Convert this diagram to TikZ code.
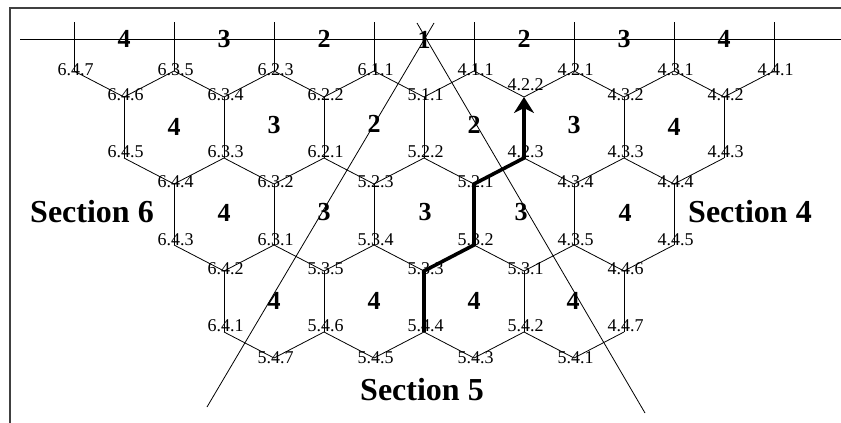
\documentclass[tikz,border=0pt]{standalone}
\usepackage{fontspec}
\setmainfont{Liberation Serif}
\usetikzlibrary{arrows.meta}
\begin{document}
\begin{tikzpicture}[x=1pt,y=-1pt,
  edge/.style={line width=0.8pt},
  route/.style={line width=3.6pt},
  frame/.style={line width=1.6pt, draw=black!75},
  vlab/.style={font=\fontsize{18}{18}\selectfont, inner sep=0pt},
  hexnum/.style={font=\bfseries\fontsize{26}{26}\selectfont, inner sep=0pt},
  sect/.style={font=\bfseries\fontsize{32}{32}\selectfont, inner sep=0pt}]
\useasboundingbox (0,0) rectangle (841,423);
% frame
\coordinate (fb) at (10,423);
\coordinate (fc) at (10,8);
\coordinate (fr) at (841,8);
\draw[frame] (fb) -- (fc) -- (fr);
\coordinate (hl) at (20,39);
\coordinate (hr) at (841,39);
\draw[line width=1pt] (hl) -- (hr);
% vertices with labels: name/x/y/text/shift
\foreach \n/\x/\y/\t/\s in {
 647/74/71/6.4.7/1, 635/174/71/6.3.5/1, 623/274/71/6.2.3/1, 611/374/71/6.1.1/1,
 411/474/71/4.1.1/1, 421/574/71/4.2.1/1, 431/674/71/4.3.1/1, 441/774/71/4.4.1/1,
 646/124/97/6.4.6/2, 634/224/97/6.3.4/2, 622/324/97/6.2.2/2, 511/424/97/5.1.1/2,
 422/524/97/4.2.2/12, 432/624/97/4.3.2/2, 442/724/97/4.4.2/2,
 645/124/158/6.4.5/6, 633/224/158/6.3.3/6, 621/324/158/6.2.1/6, 522/424/158/5.2.2/6,
 423/524/158/4.2.3/6, 433/624/158/4.3.3/6, 443/724/158/4.4.3/6,
 644/174/184/6.4.4/2, 632/274/184/6.3.2/2, 523/374/184/5.2.3/2, 521/474/184/5.2.1/2,
 434/574/184/4.3.4/2, 444/674/184/4.4.4/2,
 643/174/245/6.4.3/5, 631/274/245/6.3.1/5, 534/374/245/5.3.4/5, 532/474/245/5.3.2/5,
 435/574/245/4.3.5/5, 445/674/245/4.4.5/5,
 642/224/271/6.4.2/2, 535/324/271/5.3.5/2, 533/424/271/5.3.3/2, 531/524/271/5.3.1/2,
 446/624/271/4.4.6/2,
 641/224/332/6.4.1/6, 546/324/332/5.4.6/6, 544/424/332/5.4.4/6, 542/524/332/5.4.2/6,
 447/624/332/4.4.7/6,
 547/274/358/5.4.7/0, 545/374/358/5.4.5/0, 543/474/358/5.4.3/0, 541/574/358/5.4.1/0}{
  \coordinate (v\n) at (\x,\y);
  \node[vlab] (l\n) at ([xshift=1.5pt,yshift=\s pt]v\n) {\t};
}
% tick tops
\foreach \n/\x in {1/74,2/174,3/274,4/374,5/474,6/574,7/674,8/774}{
  \coordinate (t\n) at (\x,22);
}
\draw[edge] (t1) -- (v647);
\draw[edge] (t2) -- (v635);
\draw[edge] (t3) -- (v623);
\draw[edge] (t4) -- (v611);
\draw[edge] (t5) -- (v411);
\draw[edge] (t6) -- (v421);
\draw[edge] (t7) -- (v431);
\draw[edge] (t8) -- (v441);
% zigzags
\draw[edge] (v647) -- (v646) -- (v635) -- (v634) -- (v623) -- (v622) -- (v611) -- (v511)
  -- (v411) -- (v422) -- (v421) -- (v432) -- (v431) -- (v442) -- (v441);
\draw[edge] (v645) -- (v644) -- (v633) -- (v632) -- (v621) -- (v523) -- (v522) -- (v521);
\draw[edge] (v423) -- (v434) -- (v433) -- (v444) -- (v443);
\draw[edge] (v643) -- (v642) -- (v631) -- (v535) -- (v534) -- (v533);
\draw[edge] (v532) -- (v531) -- (v435) -- (v446) -- (v445);
\draw[edge] (v641) -- (v547) -- (v546) -- (v545) -- (v544) -- (v543) -- (v542) -- (v541) -- (v447);
% verticals
\draw[edge] (v646) -- (v645);
\draw[edge] (v634) -- (v633);
\draw[edge] (v622) -- (v621);
\draw[edge] (v511) -- (v522);
\draw[edge] (v432) -- (v433);
\draw[edge] (v442) -- (v443);
\draw[edge] (v644) -- (v643);
\draw[edge] (v632) -- (v631);
\draw[edge] (v523) -- (v534);
\draw[edge] (v434) -- (v435);
\draw[edge] (v444) -- (v445);
\draw[edge] (v642) -- (v641);
\draw[edge] (v535) -- (v546);
\draw[edge] (v531) -- (v542);
\draw[edge] (v446) -- (v447);
% thick route
\draw[route, -{Stealth[length=16pt,width=20pt,inset=5pt]}]
  (v544) -- (v533) -- (v532) -- (v521) -- (v423) -- (v422);
% diagonals
\coordinate (da1) at (434,23);
\coordinate (da2) at (207,407);
\coordinate (db1) at (417,23);
\coordinate (db2) at (645,413);
\draw[edge] (da1) -- (da2);
\draw[edge] (db1) -- (db2);
% hexagon numbers
\foreach \n/\x/\y/\t in {
 a1/124/39/4, a2/224/39/3, a3/324/39/2, a4/424/40/1, a5/524/39/2, a6/624/39/3, a7/724/39/4,
 b1/174/127/4, b2/274/125/3, b3/374/124/2, b4/474/125/2, b5/574/125/3, b6/674/127/4,
 c1/224/213/4, c2/324/212/3, c3/425/212/3, c4/521/212/3, c5/625/213/4,
 d1/274/301/4, d2/374/301/4, d3/474/301/4, d4/573/301/4}{
  \node[hexnum] (h\n) at (\x,\y) {\t};
}
% sections
\node[sect] (s6) at (92,212) {Section 6};
\node[sect] (s4) at (750,212) {Section 4};
\node[sect] (s5) at (422,390) {Section 5};
\end{tikzpicture}
\end{document}
